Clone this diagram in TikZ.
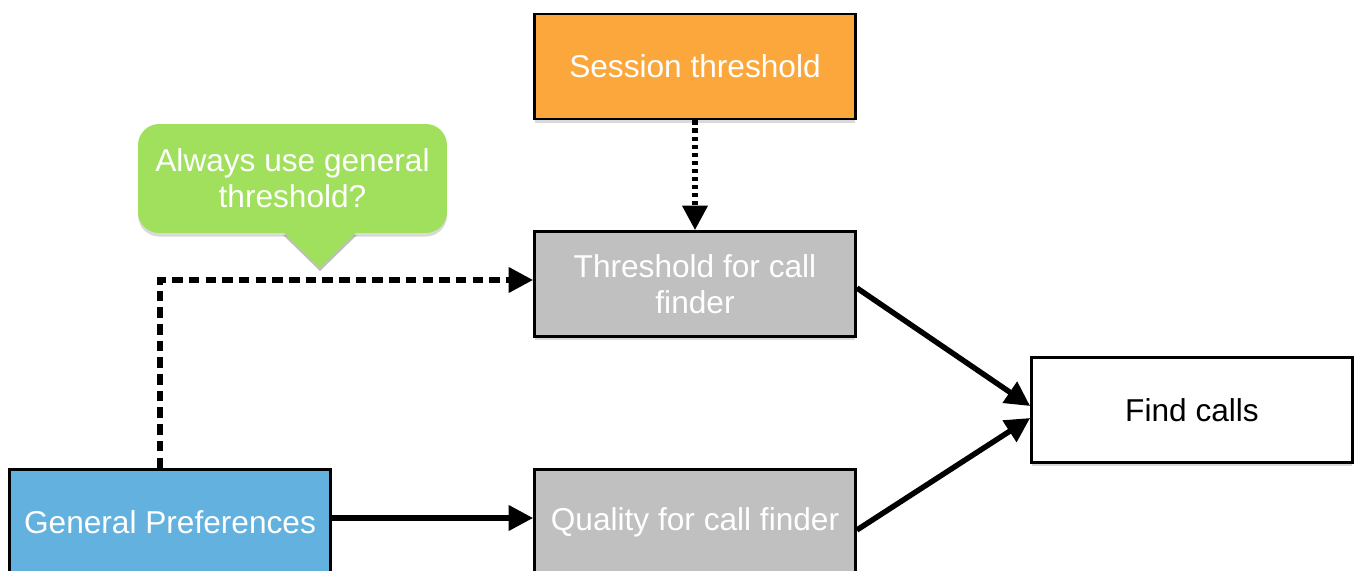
\documentclass[tikz,border=0pt]{standalone}
\usepackage{fontspec}
\setmainfont{Liberation Sans}
\usetikzlibrary{arrows.meta, shadows}

\definecolor{sessorange}{HTML}{FBA73B}
\definecolor{tipgreen}{HTML}{A0E05C}
\definecolor{prefblue}{HTML}{63B1DE}
\definecolor{stepgray}{HTML}{C0C0C0}

\begin{document}
\begin{tikzpicture}[x=0.02cm, y=-0.02cm,
    box/.style={draw=black, line width=1.6pt, minimum width=6.42cm, minimum height=2.1cm,
        align=center, text=white, font=\fontsize{18}{20.5}\selectfont,
        drop shadow={shadow xshift=0pt, shadow yshift=-2pt, opacity=0.3}},
    link/.style={line width=3.1pt, -{Triangle[length=14pt, width=14pt]}},
    ]
    \useasboundingbox (0,0) rectangle (1362,571);


    \node[box, fill=sessorange] (sess) at (695,66.5) {Session threshold};
    \node[box, fill=stepgray] (thr) at (695,284) {Threshold for call\\finder};

    \node[box, fill=stepgray] (qual) at (695,522) {Quality for call finder};
    \node[box, fill=prefblue] (gen) at (170,522) {General Preferences};

    \node[box, fill=white, text=black] (find) at (1192,410) {Find calls};

    \fill[black, opacity=0.25] (283,235) -- (320,271) -- (357,235) -- cycle;
    \node[fill=tipgreen, rounded corners=12pt, minimum width=6.18cm, minimum height=2.18cm,
        align=center, text=white, font=\fontsize{18}{20.5}\selectfont,
        drop shadow={shadow xshift=0pt, shadow yshift=-2pt, opacity=0.3}]
        (tip) at (292.5,178.5) {Always use general\\threshold?};
    \fill[tipgreen] (283,232) -- (320,268) -- (357,232) -- cycle;


    \draw[link, dash pattern=on 6pt off 3.5pt] ([xshift=-0.2cm]gen.north) |- ([yshift=0.08cm]thr.west);
    \draw[link, dash pattern=on 2.4pt off 2.2pt] (sess.south) -- (thr.north);
    \draw[link] ([yshift=0.08cm]gen.east) -- ([yshift=0.08cm]qual.west);

    \draw[link] ([yshift=-0.08cm]thr.east) -- ([yshift=0.08cm]find.west);
    \draw[link] ([yshift=-0.16cm]qual.east) -- ([yshift=-0.16cm]find.west);

\end{tikzpicture}
\end{document}
